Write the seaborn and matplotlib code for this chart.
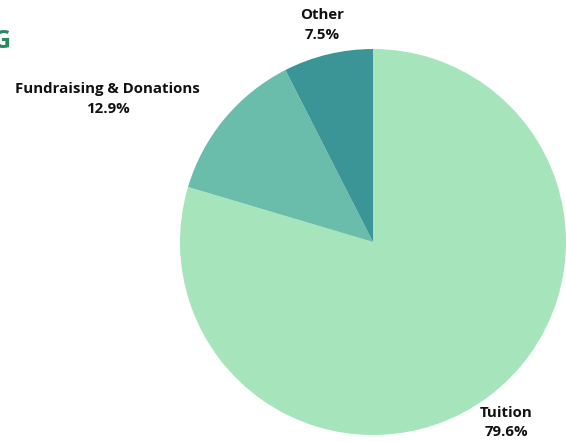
import matplotlib
matplotlib.use("Agg")
import matplotlib.pyplot as plt
import seaborn as sns

categories = ["Tuition", "Fundraising & Donations", "Other"]
shares = [79.6, 12.9, 7.5]
colors = ["#a6e5bb", "#6bbdab", "#3b9597"]

sns.set_theme(style="white")
plt.rcParams["font.family"] = ["Open Sans", "DejaVu Sans"]

W, H = 566, 441
fig = plt.figure(figsize=(W / 100, H / 100), dpi=100)
cx, cy, r = 373, 242, 193
ax = fig.add_axes([(cx - r) / W, (H - cy - r) / H, 2 * r / W, 2 * r / H])

labels = [f"{c}\n{s}%" for c, s in zip(categories, shares)]
wedges, texts = ax.pie(shares, colors=colors, startangle=90, counterclock=False,
                       labels=labels, labeldistance=1.16,
                       wedgeprops=dict(linewidth=0),
                       textprops=dict(fontsize=10.8, fontweight="bold", color="#111111",
                                      ha="center", va="center", linespacing=1.5))
for w in wedges:
    w.set_clip_on(False)

# label positions in the reference (pie units)
texts[0].set_position((0.69, -0.935))
texts[1].set_position((-1.375, 0.74))
texts[2].set_position((-0.264, 1.125))
for t in texts:
    t.set_ha("center")

ax.set_xlim(-1, 1)
ax.set_ylim(-1, 1)
ax.set_aspect("equal")

# cropped title fragment at the left edge
fig.text(11 / W, 1 - 48 / H, "G", ha="right", va="baseline",
         fontsize=18, fontweight="bold", color="#2a8a5e")

fig.savefig("out.png", dpi=100)
